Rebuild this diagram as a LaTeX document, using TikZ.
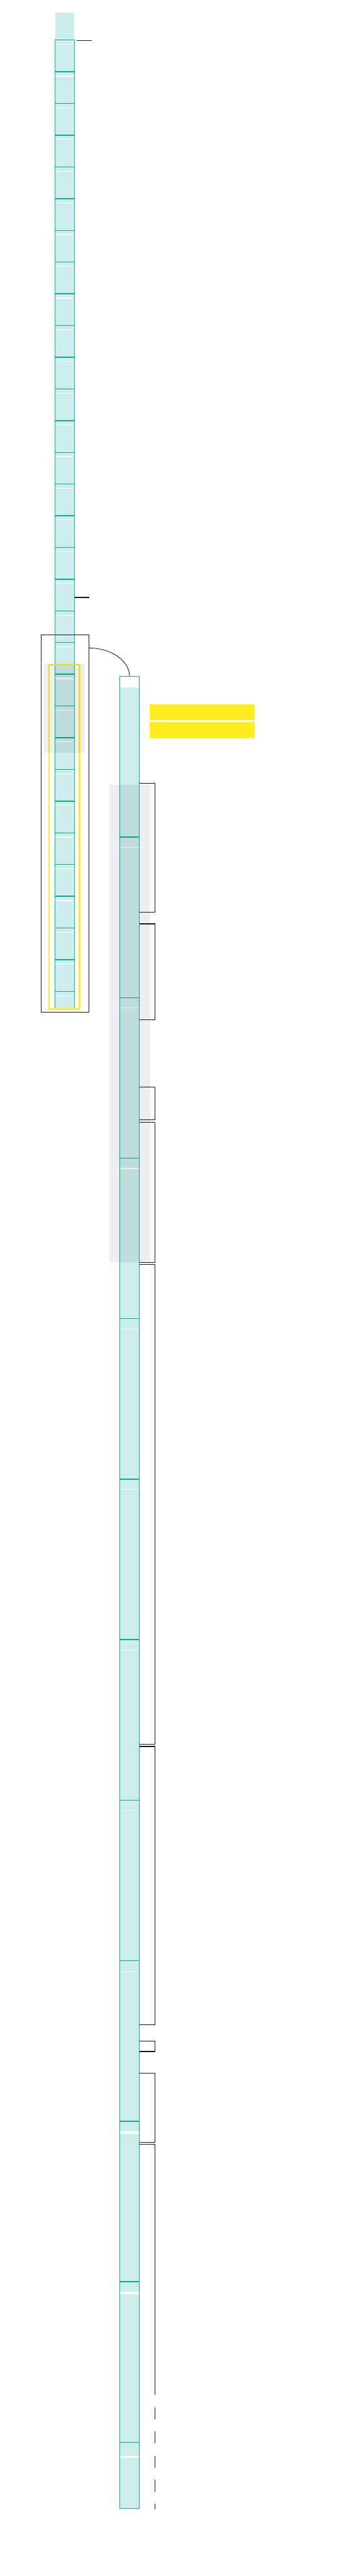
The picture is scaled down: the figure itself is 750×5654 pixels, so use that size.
\documentclass[tikz,border=0pt]{standalone}
\definecolor{tealc}{RGB}{16,170,156}
\definecolor{cellfill}{RGB}{204,237,234}
\definecolor{yellowc}{RGB}{255,237,34}
\definecolor{inkc}{RGB}{25,25,25}
\tikzset{
  lcell/.style={draw=tealc,fill=cellfill,line width=1.3pt},
  rcell/.style={draw=tealc,fill=cellfill,line width=1.4pt},
  divline/.style={draw=tealc,line width=2pt},
  stripe/.style={fill=white},
  shade/.style={fill=black,opacity=0.065},
  brk/.style={draw=inkc,line width=1.6pt},
  ybar/.style={fill=yellowc,inner sep=0pt,minimum width=230pt,minimum height=35pt},
}
\begin{document}
\begin{tikzpicture}[x=1pt,y=-1pt]
\useasboundingbox (0,0) rectangle (750,5654);
\fill[white] (0,0) rectangle (750,5654);
% left column
\fill[cellfill] (121,28) rectangle (163,88);
\foreach \k in {0,...,30}{
  \pgfmathsetmacro\ya{88+69.6*\k}
  \pgfmathsetmacro\yb{min(88+69.6*(\k+1),2213.5)}
  \draw[lcell] (120.5,\ya) rectangle (163.5,\yb);
}
\foreach \k in {0,...,30}{
  \pgfmathsetmacro\ya{88+69.6*\k}
  \draw[divline] (120.5,\ya) -- (163.5,\ya);
  \fill[stripe] (122,\ya+8.5) rectangle (162,\ya+10.2);
}
\node[inner sep=0pt,minimum width=43pt,minimum height=2185.5pt] (leftcol) at (142,1120.75) {};
% small bars
\coordinate (b1a) at (169,89); \coordinate (b1b) at (202,89);
\draw[brk] (b1a) -- (b1b);
\coordinate (b2a) at (164.3,1311.3); \coordinate (b2b) at (196.7,1311.3);
\draw[brk] (b2a) -- (b2b);
% yellow outline
\draw[yellowc,line width=3.7pt] (107.5,1459.2) rectangle (174.2,2214.8);
% grey overlay left
\fill[shade] (97.3,1456.7) rectangle (186.7,1652.7);
% black box
\node[draw=inkc,line width=1.5pt,inner sep=0pt,minimum width=105pt,minimum height=828pt] (box) at (142.5,1808) {};
% right column
\foreach \n in {0,...,11}{
  \pgfmathsetmacro\ya{1485+352.3*\n}
  \pgfmathsetmacro\yb{min(1485+352.3*(\n+1),5506)}
  \draw[rcell] (262.8,\ya) rectangle (306.2,\yb);
}
\fill[white] (263.6,1485.8) rectangle (305.4,1509);
\foreach \n in {1,...,11}{
  \pgfmathsetmacro\ya{1485+352.3*\n}
  \draw[divline] (262.8,\ya) -- (306.2,\ya);
}
\foreach \n in {1,...,8}{
  \pgfmathsetmacro\ya{1485+352.3*\n}
  \fill[stripe] (263.6,\ya+22) rectangle (305.4,\ya+23.6);
}
\foreach \n in {9,10}{
  \pgfmathsetmacro\ya{1485+352.3*\n}
  \fill[stripe] (263.6,\ya+22.6) rectangle (305.4,\ya+27.4);
}
\fill[stripe] (263.6,5390) rectangle (305.4,5395);
\node[inner sep=0pt,minimum width=44.4pt,minimum height=4021pt] (rightcol) at (284.5,3495.5) {};
% grey overlay right
\fill[shade] (240,1723) rectangle (329.3,2770);
% connector
\coordinate (cs) at (195,1422.3);
\draw[inkc,line width=1.2pt] (cs) .. controls (244,1422.3) and (284.5,1450) .. (rightcol.north);
% yellow bars
\node[ybar] (y1) at (444,1563.2) {};
\node[ybar] (y2) at (444,1602.6) {};
% brackets
\foreach \t/\b in {1719.3/2001.7,2027.7/2238.3,2385.7/2458,2463.4/2770.5,2775/3828.4,3833.3/4443.6,4480/4502.7,4550/4701.8}{
  \draw[brk] (306.7,\t) -| (340,\b) -- (306.7,\b);
}
\draw[brk] (306.7,4706.7) -| (340,5257);
\draw[brk,dash pattern=on 26.6pt off 26.4pt] (340,5283.7) -- (340,5507.5);
\end{tikzpicture}
\end{document}
